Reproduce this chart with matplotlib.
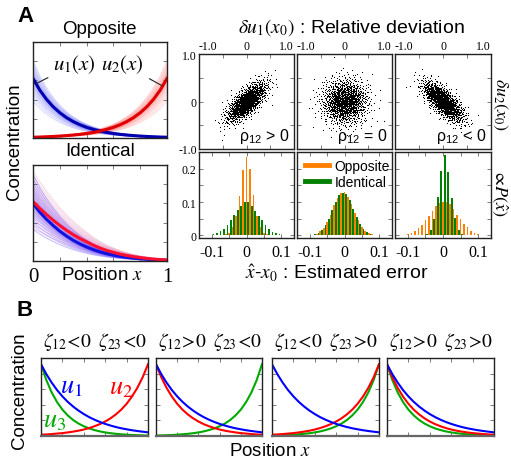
import numpy as np
import matplotlib
matplotlib.use('Agg')
import matplotlib.pyplot as plt
from matplotlib.lines import Line2D

plt.rcParams['font.family'] = ['Liberation Sans', 'DejaVu Sans']
plt.rcParams['mathtext.fontset'] = 'stix'

# ---------------- data ----------------
x_pos = [0.00, 0.05, 0.10, 0.15, 0.20, 0.25, 0.30, 0.35, 0.40, 0.45, 0.50,
         0.55, 0.60, 0.65, 0.70, 0.75, 0.80, 0.85, 0.90, 0.95, 1.00]

# Panel A, mean gradients
opp_u1_mean = [0.620, 0.500, 0.404, 0.326, 0.263, 0.212, 0.171, 0.138, 0.111, 0.090, 0.073,
               0.058, 0.047, 0.038, 0.031, 0.025, 0.020, 0.016, 0.013, 0.010, 0.008]
opp_u2_mean = [0.008, 0.010, 0.013, 0.016, 0.020, 0.025, 0.031, 0.038, 0.047, 0.058, 0.073,
               0.090, 0.111, 0.138, 0.171, 0.212, 0.263, 0.326, 0.404, 0.500, 0.620]
ide_u2_mean = [0.620, 0.550, 0.485, 0.425, 0.370, 0.320, 0.275, 0.235, 0.200, 0.165, 0.135,
               0.110, 0.090, 0.072, 0.057, 0.045, 0.035, 0.027, 0.020, 0.015, 0.011]
ide_u1_mean = [0.600, 0.510, 0.435, 0.370, 0.310, 0.260, 0.215, 0.178, 0.146, 0.118, 0.095,
               0.076, 0.061, 0.048, 0.038, 0.030, 0.023, 0.018, 0.014, 0.011, 0.008]
# amplitude spread of the individual (noisy) gradients
opp_spread = [0.62, 0.68, 0.73, 0.77, 0.80, 0.83, 0.86, 0.88, 0.90, 0.92, 0.94, 0.95, 0.97, 0.98,
              1.00, 1.01, 1.03, 1.05, 1.06, 1.08, 1.10, 1.12, 1.15, 1.18, 1.21, 1.25, 1.30]
ide_spread = [0.55, 0.62, 0.68, 0.74, 0.79, 0.83, 0.87, 0.90, 0.93, 0.96, 0.99, 1.02, 1.05,
              1.08, 1.12, 1.16, 1.20, 1.25, 1.30, 1.36, 1.43, 1.50]

# Scatter clouds (std of each axis, correlation)
cloud_sd = [0.21, 0.24, 0.21]
cloud_rho = [0.72, 0.0, -0.72]
cloud_n = 1300
rho_labels = [r'$\mathregular{\rho_{12}}$ > 0', r'$\mathregular{\rho_{12}}$ = 0',
              r'$\mathregular{\rho_{12}}$ < 0']

# Histograms: orange bins centred at k*0.01, green bins at k*0.01+0.005
hist_centers = [-0.13, -0.12, -0.11, -0.10, -0.09, -0.08, -0.07, -0.06, -0.05, -0.04, -0.03,
                -0.02, -0.01, 0.00, 0.01, 0.02, 0.03, 0.04, 0.05, 0.06, 0.07, 0.08, 0.09,
                0.10, 0.11, 0.12, 0.13]
opp_hist = [
    [0.001, 0.001, 0.001, 0.001, 0.001, 0.001, 0.001, 0.003, 0.008, 0.026, 0.058, 0.118, 0.196,
     0.235, 0.198, 0.120, 0.057, 0.025, 0.008, 0.003, 0.001, 0.001, 0.001, 0.001, 0.001, 0.001, 0.001],
    [0.001, 0.001, 0.001, 0.001, 0.002, 0.005, 0.012, 0.023, 0.040, 0.062, 0.090, 0.112, 0.127,
     0.130, 0.116, 0.095, 0.067, 0.045, 0.026, 0.013, 0.006, 0.003, 0.002, 0.001, 0.001, 0.001, 0.001],
    [0.001, 0.001, 0.002, 0.004, 0.008, 0.014, 0.022, 0.032, 0.046, 0.058, 0.074, 0.088, 0.097,
     0.101, 0.100, 0.093, 0.079, 0.060, 0.048, 0.033, 0.024, 0.014, 0.007, 0.003, 0.002, 0.001, 0.001],
]
ide_hist = [
    [0.001, 0.002, 0.002, 0.004, 0.007, 0.012, 0.020, 0.032, 0.046, 0.060, 0.075, 0.088, 0.100,
     0.100, 0.088, 0.074, 0.058, 0.045, 0.031, 0.019, 0.011, 0.006, 0.004, 0.002, 0.001, 0.001, 0.001],
    [0.001, 0.001, 0.001, 0.001, 0.003, 0.008, 0.017, 0.030, 0.050, 0.075, 0.100, 0.121, 0.128,
     0.124, 0.106, 0.080, 0.056, 0.035, 0.019, 0.009, 0.004, 0.002, 0.001, 0.001, 0.001, 0.001, 0.001],
    [0.001, 0.001, 0.001, 0.001, 0.001, 0.001, 0.001, 0.002, 0.004, 0.016, 0.050, 0.115, 0.194,
     0.240, 0.190, 0.113, 0.052, 0.017, 0.005, 0.002, 0.001, 0.001, 0.001, 0.001, 0.001, 0.001, 0.001],
]

# Panel B gradients
b_u1_decay = [0.920, 0.793, 0.684, 0.589, 0.508, 0.438, 0.378, 0.326, 0.281, 0.242, 0.209,
              0.180, 0.155, 0.134, 0.115, 0.099, 0.086, 0.074, 0.064, 0.055, 0.047]
b_u2_decay = [0.920, 0.753, 0.617, 0.505, 0.413, 0.338, 0.277, 0.227, 0.186, 0.152, 0.125,
              0.102, 0.083, 0.068, 0.056, 0.046, 0.037, 0.031, 0.025, 0.020, 0.017]
b_u2_grow = [0.017, 0.020, 0.025, 0.031, 0.037, 0.046, 0.056, 0.068, 0.083, 0.102, 0.125,
             0.152, 0.186, 0.227, 0.277, 0.338, 0.413, 0.505, 0.617, 0.753, 0.920]
b_u3_decay = [0.920, 0.717, 0.558, 0.435, 0.338, 0.264, 0.205, 0.160, 0.125, 0.097, 0.076,
              0.059, 0.046, 0.036, 0.028, 0.022, 0.017, 0.013, 0.010, 0.008, 0.006]
b_u3_grow = [0.006, 0.008, 0.010, 0.013, 0.017, 0.022, 0.028, 0.036, 0.046, 0.059, 0.076,
             0.097, 0.125, 0.160, 0.205, 0.264, 0.338, 0.435, 0.558, 0.717, 0.920]
b_titles = [r'$\zeta_{12}\!<\!0\;\;\zeta_{23}\!<\!0$', r'$\zeta_{12}\!>\!0\;\;\zeta_{23}\!<\!0$',
            r'$\zeta_{12}\!<\!0\;\;\zeta_{23}\!>\!0$', r'$\zeta_{12}\!>\!0\;\;\zeta_{23}\!>\!0$']
b_u2_sets = [b_u2_grow, b_u2_decay, b_u2_grow, b_u2_decay]
b_u3_sets = [b_u3_decay, b_u3_grow, b_u3_grow, b_u3_decay]

# ---------------- figure ----------------
W, H = 511, 460
fig = plt.figure(figsize=(W / 100, H / 100), dpi=100)


def rect(x0, y0, x1, y1):
    return [x0 / W, 1 - y1 / H, (x1 - x0) / W, (y1 - y0) / H]


def T(x, y, s, **kw):
    kw.setdefault('ha', 'center')
    kw.setdefault('va', 'center')
    fig.text(x / W, 1 - y / H, s, **kw)


def frame(ax):
    for sp in ax.spines.values():
        sp.set_linewidth(1.0)
        sp.set_color('#222222')
    ax.tick_params(direction='in', length=3, width=0.6, color='#666666',
                   top=True, right=True, labelfontfamily='Liberation Serif')


X = np.array(x_pos)
BLUE_T, RED_T = '#2a2aff', '#ff2a2a'

# --- A: Opposite
ax = fig.add_axes(rect(33, 43, 167, 139))
for f in opp_spread:
    ax.plot(X, np.array(opp_u1_mean) * f, color=BLUE_T, lw=0.6, alpha=0.22)
    ax.plot(X, np.array(opp_u2_mean) * f, color=RED_T, lw=0.6, alpha=0.22)
ax.plot(X, opp_u1_mean, color='#0000b0', lw=2.2)
ax.plot(X, opp_u2_mean, color='#e00000', lw=2.2)
ax.set_xlim(0, 1); ax.set_ylim(0, 1)
ax.set_xticks([0, 0.2, 0.4, 0.6, 0.8, 1.0]); ax.set_yticks([0.2, 0.4, 0.6, 0.8])
ax.set_xticklabels([]); ax.set_yticklabels([])
frame(ax)
ax.annotate(r'$u_1(x)$', xy=(0.022, 0.565), xytext=(0.31, 0.77), fontsize=15,
            ha='center', va='center',
            arrowprops=dict(arrowstyle='-', color='#222222', lw=0.8, shrinkA=2, shrinkB=0))
ax.annotate(r'$u_2(x)$', xy=(0.963, 0.545), xytext=(0.67, 0.77), fontsize=15,
            ha='center', va='center',
            arrowprops=dict(arrowstyle='-', color='#222222', lw=0.8, shrinkA=2, shrinkB=0))

# --- A: Identical
ax = fig.add_axes(rect(33, 166, 167, 262))
for i, f in enumerate(ide_spread):
    if i % 2:
        ax.plot(X, np.array(ide_u1_mean) * f, color='#5030ff', lw=0.8, alpha=0.3)
        ax.plot(X, np.array(ide_u2_mean) * f, color='#d04090', lw=0.8, alpha=0.2)
    else:
        ax.plot(X, np.array(ide_u2_mean) * f, color='#d04090', lw=0.8, alpha=0.2)
        ax.plot(X, np.array(ide_u1_mean) * f, color='#5030ff', lw=0.8, alpha=0.3)
ax.plot(X, ide_u1_mean, color='#1010e0', lw=2.2)
ax.plot(X, ide_u2_mean, color='#ff1030', lw=2.2)
ax.set_xlim(0, 1); ax.set_ylim(0, 1)
ax.set_xticks([0, 0.2, 0.4, 0.6, 0.8, 1.0]); ax.set_yticks([0.2, 0.4, 0.6, 0.8])
ax.set_xticklabels(['0', '', '', '', '', '1']); ax.set_yticklabels([])
frame(ax)
ax.tick_params(axis='x', labelsize=15, pad=4)


# --- scatter clouds (deterministic Halton points)
def halton(n, base, start):
    i = np.arange(start + 1, start + n + 1)
    out = np.zeros(n)
    f = 1.0
    while np.any(i > 0):
        f /= base
        out += f * (i % base)
        i = i // base
    return out


scat_x = [(199, 294), (297, 392), (395, 491)]
for p in range(3):
    ax = fig.add_axes(rect(scat_x[p][0], 55, scat_x[p][1], 150))
    h1 = halton(cloud_n, 2, 1000 + 4000 * p)
    h2 = halton(cloud_n, 3, 1000 + 4000 * p)
    r = np.sqrt(-2 * np.log(h1))
    z1, z2 = r * np.cos(2 * np.pi * h2), r * np.sin(2 * np.pi * h2)
    rho = cloud_rho[p]
    xs = cloud_sd[p] * z1
    ys = cloud_sd[p] * (rho * z1 + np.sqrt(1 - rho ** 2) * z2)
    ax.plot(xs, ys, 's', color='k', markersize=0.75, markeredgewidth=0)
    ax.set_xlim(-1, 1); ax.set_ylim(-1, 1)
    ax.set_xticks([-1, -0.5, 0, 0.5, 1]); ax.set_yticks([-1, -0.5, 0, 0.5, 1])
    frame(ax)
    ax.tick_params(labeltop=True, labelbottom=False, labelsize=8.5, pad=1.5)
    ax.set_xticklabels(['-1.0', '', '0', '', '1.0'])
    labs = ax.get_xticklabels()
    labs[0].set_ha('left'); labs[4].set_ha('right')
    if p == 0:
        ax.set_yticklabels(['-1.0', '', '0', '', '1.0'])
    else:
        ax.set_yticklabels([])
    ax.text(0.95, 0.04, rho_labels[p], transform=ax.transAxes, ha='right', va='bottom',
            fontsize=11.5)

# --- histograms
C = np.array(hist_centers)
for p in range(3):
    ax = fig.add_axes(rect(scat_x[p][0], 153, scat_x[p][1], 239))
    ax.bar(C, opp_hist[p], width=0.005, color='#ff8000', lw=0)
    ax.bar(C + 0.005, ide_hist[p], width=0.005, color='#008000', lw=0)
    ax.set_xlim(-0.137, 0.137); ax.set_ylim(-0.0075, 0.25)
    ax.set_xticks([-0.1, -0.05, 0, 0.05, 0.1]); ax.set_yticks([0, 0.05, 0.1, 0.15, 0.2])
    frame(ax)
    ax.set_xticklabels(['-0.1', '', '0', '', '0.1'])
    ax.tick_params(axis='x', labelsize=11.5, pad=4)
    if p == 0:
        ax.set_yticklabels(['0', '', '0.1', '', '0.2'])
        ax.tick_params(axis='y', labelsize=8.5, pad=2)
    else:
        ax.set_yticklabels([])
    if p == 1:
        hs = [Line2D([], [], color='#ff8000', lw=3.5), Line2D([], [], color='#008000', lw=3.5)]
        ax.legend(hs, ['Opposite', 'Identical'], loc='upper left', frameon=False,
                  fontsize=10, handlelength=1.7, handletextpad=0.4, labelspacing=0.15,
                  borderaxespad=0.2, bbox_to_anchor=(0.0, 1.02))

# --- B panels
b_x = [(41, 148), (156, 262), (272, 379), (387, 494)]
for p in range(4):
    ax = fig.add_axes(rect(b_x[p][0], 359, b_x[p][1], 437))
    ax.plot(X, b_u3_sets[p], color='#00aa00', lw=1.5)
    ax.plot(X, b_u2_sets[p], color='#ff0000', lw=1.5)
    ax.plot(X, b_u1_decay, color='#0000ff', lw=1.5)
    ax.set_xlim(0, 1); ax.set_ylim(0, 1)
    ax.set_xticks([0.2, 0.4, 0.6, 0.8]); ax.set_yticks([0.2, 0.4, 0.6, 0.8])
    ax.set_xticklabels([]); ax.set_yticklabels([])
    frame(ax)
    ax.spines['bottom'].set_color('#666666'); ax.spines['bottom'].set_linewidth(1.6)
    T((b_x[p][0] + b_x[p][1]) / 2 + 1, 342, b_titles[p], fontsize=14)
    if p == 0:
        ax.text(0.28, 0.64, r'$u_1$', color='#0000ff', fontsize=19, ha='center', va='center')
        ax.text(0.75, 0.63, r'$u_2$', color='#ff0000', fontsize=19, ha='center', va='center')
        ax.text(0.13, 0.20, r'$u_3$', color='#00aa00', fontsize=19, ha='center', va='center')

# --- figure texts
T(25, 17, 'A', fontsize=16, fontweight='bold')
T(25, 311, 'B', fontsize=16, fontweight='bold')
T(99, 30, 'Opposite', fontsize=13.5)
T(100, 152, 'Identical', fontsize=13.5)
T(15, 142, 'Concentration', fontsize=13.5, rotation=90)
T(102, 275, 'Position $x$', fontsize=13.5)
T(351, 28, r'$\delta u_1(x_0)$ : Relative deviation', fontsize=14)
T(500, 104, r'$\delta u_2(x_0)$', fontsize=13, rotation=-90)
T(500, 193, r'$\propto\! P(\hat{x})$', fontsize=13, rotation=-90)
T(337, 273, r'$\hat{x}$-$x_0$ : Estimated error', fontsize=14)
T(20, 391, 'Concentration', fontsize=13.5, rotation=90)
T(270, 452, 'Position $x$', fontsize=13.5)

fig.savefig('out.png', dpi=100)
